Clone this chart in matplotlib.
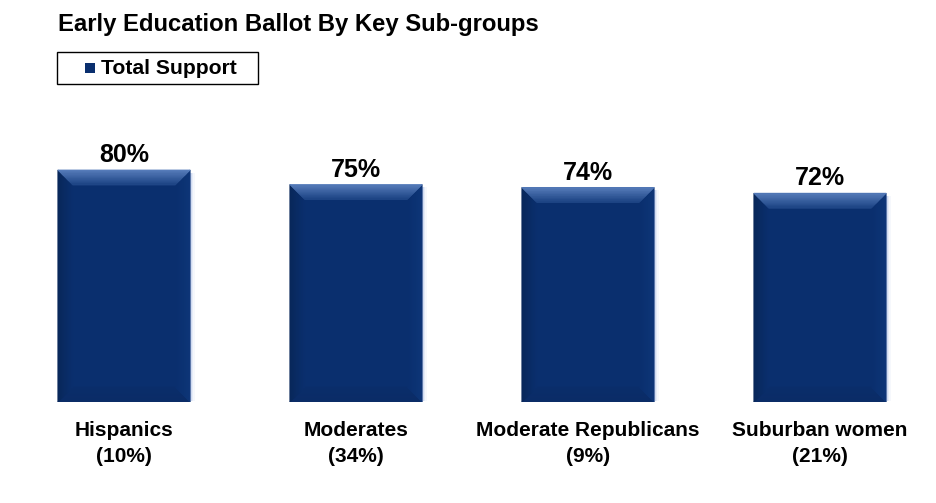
import matplotlib
matplotlib.use("Agg")
import matplotlib.pyplot as plt
import numpy as np
from matplotlib.colors import to_rgb
from matplotlib.patches import Polygon, Rectangle

plt.rcParams["font.family"] = ["Liberation Sans", "DejaVu Sans"]

categories = ["Hispanics", "Moderates", "Moderate Republicans", "Suburban women"]
shares = ["(10%)", "(34%)", "(9%)", "(21%)"]
support = [80, 75, 74, 72]

NAVY = "#0a2f6e"


def mix(c1, c2, t):
    a, b = np.array(to_rgb(c1)), np.array(to_rgb(c2))
    return tuple(a + (b - a) * t)


def bevel(ax, outer, inner, c_out, c_in, n=12):
    # gradient trapezoid from the bar edge (outer) to the inner face (inner)
    (o1, o2), (i1, i2) = np.array(outer), np.array(inner)
    for k in range(n):
        t0, t1 = k / n, (k + 1) / n
        p = [o1 + (i1 - o1) * t0, o2 + (i2 - o2) * t0,
             o2 + (i2 - o2) * t1, o1 + (i1 - o1) * t1]
        col = mix(c_out, c_in, (t0 + t1) / 2)
        ax.add_patch(Polygon(p, closed=True, lw=0.6, facecolor=col,
                             edgecolor=col, zorder=3))


fig = plt.figure(figsize=(9.36, 5.03), dpi=100)
ax = fig.add_axes([0, 0.2008, 1, 0.5765])
ax.set_xlim(-124 / 232, (936 - 124) / 232)
ax.set_ylim(0, 100)
ax.axis("off")

width = 0.57
bx = 15 / 232           # bevel width in data x
by = 15 / 2.9           # bevel height in data y
x = list(range(len(categories)))

for xi, v in zip(x, support):
    l, r = xi - width / 2, xi + width / 2
    # soft light shadow on the right
    for k, a in enumerate([0.45, 0.25, 0.12]):
        off = (k + 1) * 1.6 / 232
        ax.add_patch(Rectangle((l + off, 0.3), width, v - 1.2, color="#b9c9ea",
                               alpha=a, lw=0, zorder=1))
    ax.add_patch(Rectangle((l, 0), width, v, color=NAVY, lw=0, zorder=2))
    bevel(ax, [(l, 0), (r, 0)], [(l + bx, by), (r - bx, by)], "#0b2c66", "#0a2d6a")
    bevel(ax, [(l, v), (l, 0)], [(l + bx, v - by), (l + bx, by)], "#082759", NAVY)
    bevel(ax, [(r, v), (r, 0)], [(r - bx, v - by), (r - bx, by)], "#0e3678", NAVY)
    bevel(ax, [(l, v), (r, v)], [(l + bx, v - by), (r - bx, v - by)], "#5a80bd", "#1c4384")
    ax.text(xi, v + 1.0, f"{v}%", ha="center", va="bottom", fontsize=18,
            fontweight="bold", color="black")

for xi, c, s in zip(x, categories, shares):
    ax.text(xi, -6.5, f"{c}\n{s}", ha="center", va="top", fontsize=15,
            fontweight="bold", color="black", linespacing=1.45)

fig.text(58 / 936, 1 - 25 / 503, "Early Education Ballot By Key Sub-groups",
         ha="left", va="center", fontsize=17.2, fontweight="bold")

# legend box
fig.patches.append(Rectangle((57 / 936, 1 - 84 / 503), 201 / 936, 32 / 503,
                             transform=fig.transFigure, facecolor="white",
                             edgecolor="black", lw=1.0))
fig.patches.append(Rectangle((85 / 936, 1 - 73 / 503), 10 / 936, 10 / 503,
                             transform=fig.transFigure, facecolor=NAVY,
                             edgecolor="none"))
fig.text(101 / 936, 1 - 68 / 503, "Total Support", ha="left", va="center",
         fontsize=15.2, fontweight="bold")

fig.savefig("out.png", dpi=100, facecolor="white")
